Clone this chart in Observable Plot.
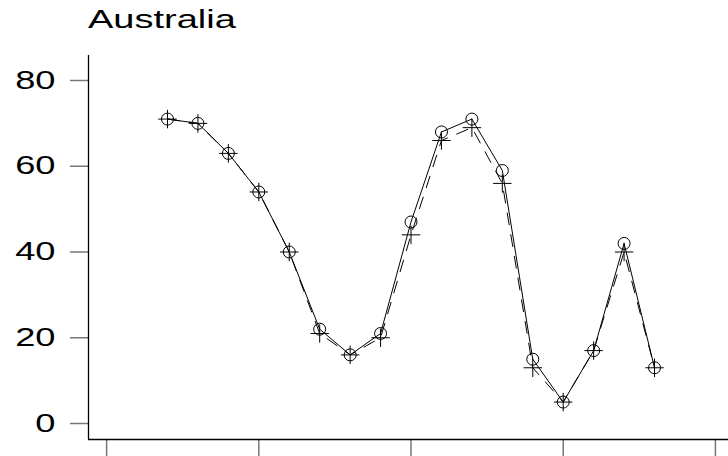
<!DOCTYPE html>
<html><head><meta charset="utf-8">
<script src="https://cdn.jsdelivr.net/npm/d3@7"></script>
<script src="https://cdn.jsdelivr.net/npm/@observablehq/plot@0.6"></script>
<style>
html,body{margin:0;padding:0;background:#fff;overflow:hidden;}
#title{box-sizing:border-box;height:40px;padding:7px 0 0 88px;font-family:"Liberation Sans",Arial,sans-serif;font-size:25px;line-height:25px;color:#000;}
#title span{display:inline-block;transform:scaleX(1.52);transform-origin:left center;}
</style></head>
<body>
<div id="title"><span>Australia</span></div>
<div id="chart"></div>
<script>
const titleText = "Australia";
const xValues = [2,3,4,5,6,7,8,9,10,11,12,13,14,15,16,17,18];
const circleSeries = [71,70,63,54,40,22,16,21,47,68,71,59,15,5,17,42,13];
const plusSeries   = [71,70,63,54,40,21,16,20,44,66,69,56,13,5,17,40,13];
const yTicks = [0,20,40,60,80];
const xTicks = [0,5,10,15,20];
const xDomain = [-0.595, 20.43];
const yDomain = [-3.73, 85.83];

const data = xValues.map((x,i)=>({x, a: circleSeries[i], b: plusSeries[i]}));

const svg = Plot.plot({
  width: 728,
  height: 416,
  marginLeft: 88,
  marginRight: 0,
  marginTop: 15,
  marginBottom: 17,
  style: {fontFamily: "Liberation Sans, Arial, sans-serif", fontSize: "25px", background: "#fff", color: "#000", overflow: "visible"},
  x: {domain: xDomain},
  y: {domain: yDomain},
  marks: [
    Plot.axisY({ticks: yTicks, tickSize: 18, tickPadding: 15, fontSize: 25, label: null, stroke: "#777", strokeWidth: 1.5}),
    Plot.axisX({ticks: xTicks, tickSize: 17, tickFormat: () => "", label: null, stroke: "#777", strokeWidth: 1.5}),
    Plot.ruleX([xDomain[0]], {stroke: "#000", strokeWidth: 1.3}),
    Plot.ruleY([yDomain[0]], {stroke: "#000", strokeWidth: 1.3}),
    Plot.line(data, {x: "x", y: "b", stroke: "#000", strokeWidth: 1, strokeDasharray: "12,10"}),
    Plot.line(data, {x: "x", y: "a", stroke: "#000", strokeWidth: 1}),
    Plot.dot(data, {x: "x", y: "a", r: 6, stroke: "#000", fill: "none", strokeWidth: 1}),
    Plot.dot(data, {x: "x", y: "b", r: 6, symbol: "plus", stroke: "#000", fill: "none", strokeWidth: 1})
  ]
});

svg.querySelectorAll('[aria-label="y-axis tick label"] text').forEach(t => {
  t.setAttribute("fill", "#000");
  const tr = t.getAttribute("transform") || "";
  t.setAttribute("transform", tr + " scale(1.45,1)");
});
document.getElementById("chart").appendChild(svg);
</script>
</body></html>
